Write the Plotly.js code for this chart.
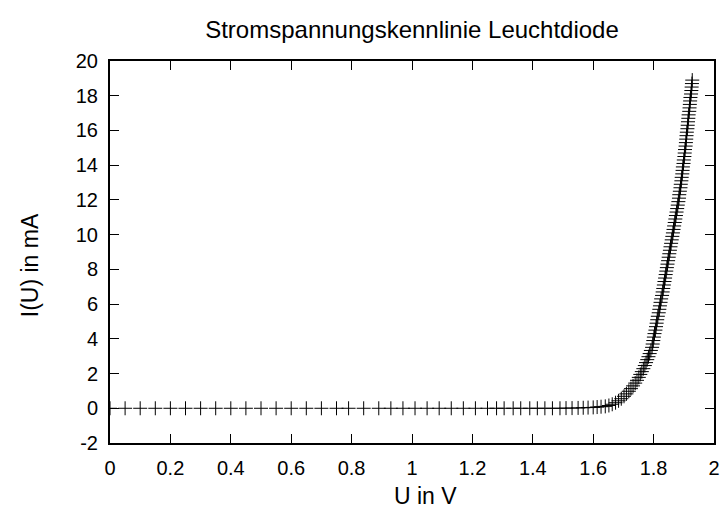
<!DOCTYPE html>
<html>
<head>
<meta charset="utf-8">
<script src="https://cdn.plot.ly/plotly-3.0.1.min.js"></script>
<style>html,body{margin:0;padding:0;background:#fff;}#plot{width:725px;height:514px;}</style>
</head>
<body>
<div id="plot"></div>
<script>
// Voltage U in V and current I in mA
const uLow = [0, 0.05, 0.10, 0.15, 0.20, 0.25, 0.30, 0.35, 0.40, 0.45, 0.50, 0.55, 0.60, 0.65, 0.70, 0.75,
  0.79, 0.84, 0.89, 0.93, 0.97, 1.01, 1.05, 1.09, 1.13, 1.17, 1.21, 1.25, 1.28, 1.305, 1.335, 1.36,
  1.39, 1.415, 1.44, 1.465, 1.49, 1.51, 1.53, 1.55, 1.567, 1.583, 1.60, 1.613, 1.626, 1.64];
const iLow = [0, 0, 0, 0, 0, 0, 0, 0, 0, 0, 0, 0, 0, 0, 0, 0,
  0, 0, 0, 0, 0, 0, 0, 0, 0, 0, 0, 0, 0, 0, 0, 0,
  0, 0, 0, 0, 0, 0.01, 0.01, 0.02, 0.03, 0.04, 0.05, 0.07, 0.09, 0.11];
const uKnee = [1.652, 1.663, 1.674, 1.684, 1.693, 1.702, 1.710, 1.718, 1.725, 1.732, 1.739, 1.745,
  1.751, 1.756, 1.761, 1.766, 1.771, 1.775, 1.779, 1.783, 1.787, 1.791, 1.795];
const iKnee = [0.16, 0.23, 0.32, 0.43, 0.55, 0.69, 0.83, 0.98, 1.13, 1.29, 1.45, 1.61,
  1.78, 1.95, 2.11, 2.28, 2.46, 2.63, 2.80, 2.97, 3.15, 3.33, 3.51];
const uSteep = [1.797, 1.799, 1.801, 1.803, 1.806, 1.808, 1.810, 1.812, 1.814, 1.817, 1.819, 1.821,
  1.823, 1.825, 1.828, 1.830, 1.832, 1.834, 1.836, 1.838, 1.840, 1.842, 1.844, 1.846, 1.848, 1.850,
  1.852, 1.854, 1.856, 1.858, 1.860, 1.862, 1.864, 1.866, 1.868, 1.870, 1.872, 1.874, 1.876, 1.878,
  1.880, 1.882, 1.884, 1.885, 1.887, 1.889, 1.890, 1.892, 1.893, 1.895, 1.896, 1.897, 1.899, 1.900,
  1.902, 1.903, 1.904, 1.906, 1.907, 1.908, 1.909, 1.910, 1.912, 1.913, 1.914, 1.915, 1.916, 1.918,
  1.919, 1.920, 1.921, 1.922, 1.924, 1.925, 1.926, 1.927, 1.928];
const iSteep = [3.7, 3.9, 4.1, 4.3, 4.5, 4.7, 4.9, 5.1, 5.3, 5.5, 5.7, 5.9,
  6.1, 6.3, 6.5, 6.7, 6.9, 7.1, 7.3, 7.5, 7.7, 7.9, 8.1, 8.3, 8.5, 8.7,
  8.9, 9.1, 9.3, 9.5, 9.7, 9.9, 10.1, 10.3, 10.5, 10.7, 10.9, 11.1, 11.3, 11.5,
  11.7, 11.9, 12.1, 12.3, 12.5, 12.7, 12.9, 13.1, 13.3, 13.5, 13.7, 13.9, 14.1, 14.3,
  14.5, 14.7, 14.9, 15.1, 15.3, 15.5, 15.7, 15.9, 16.1, 16.3, 16.5, 16.7, 16.9, 17.1,
  17.3, 17.5, 17.7, 17.9, 18.1, 18.3, 18.5, 18.7, 18.9];

// Tick labels and texts
const xTickVals = [0, 0.2, 0.4, 0.6, 0.8, 1, 1.2, 1.4, 1.6, 1.8, 2];
const xTickText = ['0', '0.2', '0.4', '0.6', '0.8', '1', '1.2', '1.4', '1.6', '1.8', '2'];
const yTickVals = [-2, 0, 2, 4, 6, 8, 10, 12, 14, 16, 18, 20];
const yTickText = ['-2', '0', '2', '4', '6', '8', '10', '12', '14', '16', '18', '20'];
const titleText = 'Stromspannungskennlinie Leuchtdiode';
const xLabel = 'U in V';
const yLabel = 'I(U) in mA';

const U = uLow.concat(uKnee, uSteep);
const I = iLow.concat(iKnee, iSteep);

const FONT = 'Liberation Sans, Arial, Helvetica, sans-serif';

const trace = {
  x: U, y: I, type: 'scatter', mode: 'markers',
  marker: {symbol: 'cross-thin', size: 10, color: '#000', line: {color: '#000', width: 1}},
  hoverinfo: 'skip', showlegend: false, cliponaxis: true
};

const axisCommon = {
  showgrid: false, zeroline: false, showline: true, linecolor: '#000', linewidth: 2,
  mirror: 'ticks', ticks: 'inside', ticklen: 9, tickwidth: 1, tickcolor: '#000',
  tickmode: 'array',
  tickfont: {family: FONT, size: 20, color: '#000'}
};

const layout = {
  width: 725, height: 514,
  margin: {l: 110, r: 11, t: 61, b: 71, pad: 0},
  paper_bgcolor: '#fff', plot_bgcolor: '#fff',
  font: {family: FONT, color: '#000'},
  title: {text: titleText, font: {family: FONT, size: 24, color: '#000'},
    xref: 'paper', x: 0.5, xanchor: 'center', yref: 'container', y: 0.942, yanchor: 'middle'},
  xaxis: Object.assign({}, axisCommon, {
    range: [0, 2], tickvals: xTickVals, ticktext: xTickText, ticklabelstandoff: 6
  }),
  yaxis: Object.assign({}, axisCommon, {
    range: [-2, 20], tickvals: yTickVals, ticktext: yTickText, ticklabelstandoff: 6
  }),
  annotations: [
    {text: xLabel, xref: 'paper', yref: 'paper', x: 0.523, y: -0.139, xanchor: 'center', yanchor: 'middle',
      showarrow: false, font: {family: FONT, size: 23, color: '#000'}},
    {text: yLabel, xref: 'paper', yref: 'paper', x: -0.132, y: 0.466, xanchor: 'center', yanchor: 'middle',
      textangle: -90, showarrow: false, font: {family: FONT, size: 23, color: '#000'}}
  ]
};

Plotly.newPlot('plot', [trace], layout, {staticPlot: true, displayModeBar: false});
</script>
</body>
</html>
